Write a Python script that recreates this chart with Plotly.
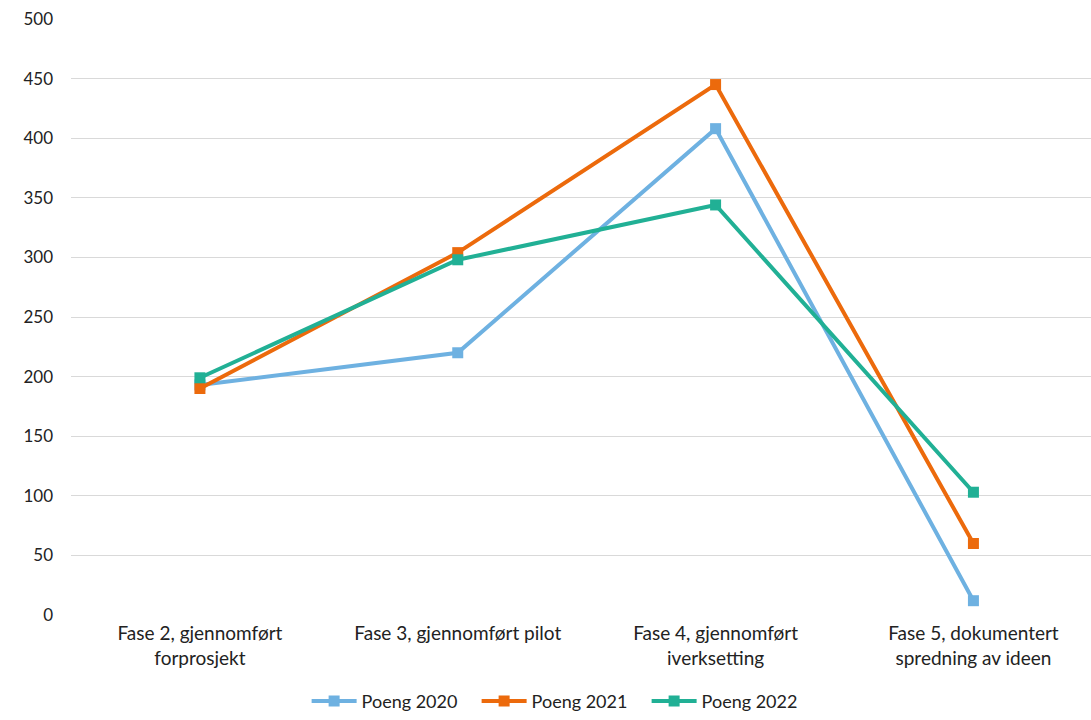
import plotly.graph_objects as go

categories = [
    'Fase 2, gjennomført<br>forprosjekt',
    'Fase 3, gjennomført pilot',
    'Fase 4, gjennomført<br>iverksetting',
    'Fase 5, dokumentert<br>spredning av ideen',
]
poeng_2020 = [193, 220, 408, 12]
poeng_2021 = [190, 304, 445, 60]
poeng_2022 = [199, 298, 344, 103]

series = [
    ('Poeng 2020', poeng_2020, '#6EB1E1'),
    ('Poeng 2021', poeng_2021, '#EC6A0C'),
    ('Poeng 2022', poeng_2022, '#21B095'),
]

fig = go.Figure()
for name, values, color in series:
    fig.add_trace(go.Scatter(
        x=categories,
        y=values,
        name=name,
        mode='lines+markers',
        line=dict(color=color, width=4),
        marker=dict(symbol='square', size=11, color=color),
    ))

fig.update_layout(
    width=1091,
    height=720,
    paper_bgcolor='#ffffff',
    plot_bgcolor='#ffffff',
    font=dict(family='Lato', size=16, color='#222222'),
    margin=dict(l=71, r=0, t=19, b=100),
    showlegend=True,
    legend=dict(
        orientation='h',
        x=0.481,
        xanchor='center',
        y=-0.145,
        yanchor='middle',
        font=dict(size=18, color='#222222'),
        itemwidth=45,
        entrywidth=110,
        tracegroupgap=0,
    ),
    xaxis=dict(
        type='category',
        range=[-0.5, 3.456],
        showgrid=False,
        showline=False,
        zeroline=False,
        tickfont=dict(size=19, color='#222222'),
        ticklabelstandoff=5,
    ),
    yaxis=dict(
        range=[0, 500],
        dtick=50,
        showgrid=True,
        gridcolor='#D9D9D9',
        gridwidth=1,
        zeroline=False,
        showline=False,
        tickfont=dict(size=17, color='#222222'),
        ticklabelstandoff=17,
    ),
)

# drop the default page margin so the figure sits at the window's corner
fig.write_html(
    'out.html',
    config={'displayModeBar': False},
    post_script="document.body.style.margin='0';",
)
